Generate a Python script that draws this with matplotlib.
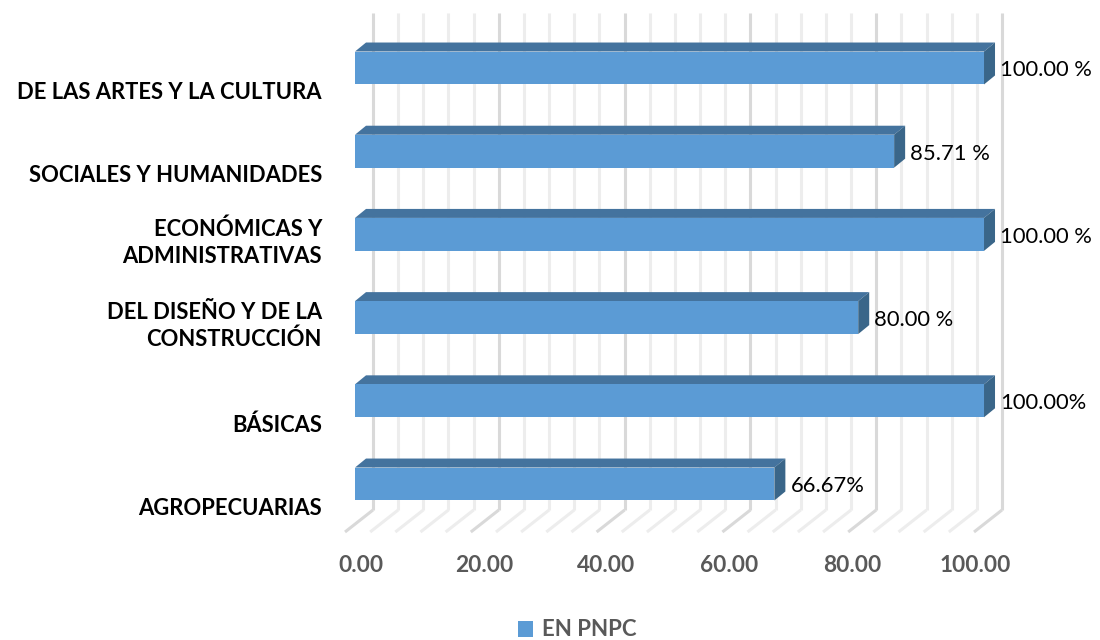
import matplotlib
matplotlib.use("Agg")
import matplotlib.pyplot as plt
from matplotlib.patches import Polygon, Patch

# ---- data ----
categories = ["AGROPECUARIAS", "BÁSICAS", "DEL DISEÑO Y DE LA\nCONSTRUCCIÓN",
              "ECONÓMICAS Y\nADMINISTRATIVAS", "SOCIALES Y HUMANIDADES",
              "DE LAS ARTES Y LA CULTURA"]
values = [66.67, 100.00, 80.00, 100.00, 85.71, 100.00]
value_labels = ["66.67%", "100.00%", "80.00 %", "100.00 %", "85.71 %", "100.00 %"]
ticks = [0, 20, 40, 60, 80, 100]
tick_labels = ["0.00", "20.00", "40.00", "60.00", "80.00", "100.00"]
series_name = "EN PNPC"

# ---- style ----
FONT = "Lato"
C_FRONT = "#5B9BD5"
C_TOP = "#44739E"
C_SIDE = "#3A6689"
C_MAJOR = "#D9D9D9"
C_MINOR = "#EDEDED"
C_TICK = "#595959"

fig = plt.figure(figsize=(11, 6.4), dpi=100)
ax = fig.add_axes([0, 0, 1, 1])
ax.set_xlim(-56.44, 118.44)
ax.set_ylim(-1.875, 5.817)
ax.axis("off")

# pseudo-3D geometry (in data units)
half_h = 0.198          # half bar thickness
bdx, bdy = 1.75, 0.108  # bar depth offset
wall_dx = 2.86          # back wall x offset
wall_bot, wall_top = -0.3125, 5.66
floor_dx, floor_y = -1.59, -0.577

# gridlines on back wall + floor
for g in range(0, 101, 4):
    col = C_MAJOR if g % 20 == 0 else C_MINOR
    ax.plot([g + wall_dx, g + wall_dx], [wall_bot, wall_top], color=col, lw=2.2,
            zorder=1, solid_capstyle="butt")
    ax.plot([g + wall_dx, g + floor_dx], [wall_bot, floor_y], color=col, lw=2.2,
            zorder=1, solid_capstyle="butt")

# bars
for i, (v, lab) in enumerate(zip(values, value_labels)):
    y0, y1 = i - half_h, i + half_h
    ax.add_patch(Polygon([(0, y1), (v, y1), (v + bdx, y1 + bdy), (bdx, y1 + bdy)],
                         closed=True, facecolor=C_TOP, edgecolor="none", zorder=3))
    ax.add_patch(Polygon([(v, y0), (v, y1), (v + bdx, y1 + bdy), (v + bdx, y0 + bdy)],
                         closed=True, facecolor=C_SIDE, edgecolor="none", zorder=3))
    ax.barh(i, v, height=2 * half_h, left=0, color=C_FRONT, edgecolor="none", zorder=4)
    ax.text(v + bdx + 0.8, i - 0.03, lab, ha="left", va="center", fontsize=15.8,
            family=FONT, color="black", zorder=5)

# category labels
for i, name in enumerate(categories):
    off = 0.10 if "\n" in name else 0.29
    ax.text(-5.25, i - off, name, ha="right", va="center", fontsize=15.8,
            fontweight="bold", family=FONT, color="black", linespacing=1.3)

# value axis labels
for t, tl in zip(ticks, tick_labels):
    ax.text(0.954 + 0.976 * t, -0.974, tl, ha="center", va="center", fontsize=16.3,
            fontweight="bold", family=FONT, color=C_TICK)

# legend
fig.legend(handles=[Patch(facecolor=C_FRONT, label=series_name)],
           loc="center", bbox_to_anchor=(577 / 1100, 1 - 630 / 640), frameon=False,
           handlelength=0.7, handleheight=0.7, handletextpad=0.4,
           prop={"family": FONT, "weight": "bold", "size": 16}, labelcolor=C_TICK)

fig.savefig("out.png", dpi=100)
